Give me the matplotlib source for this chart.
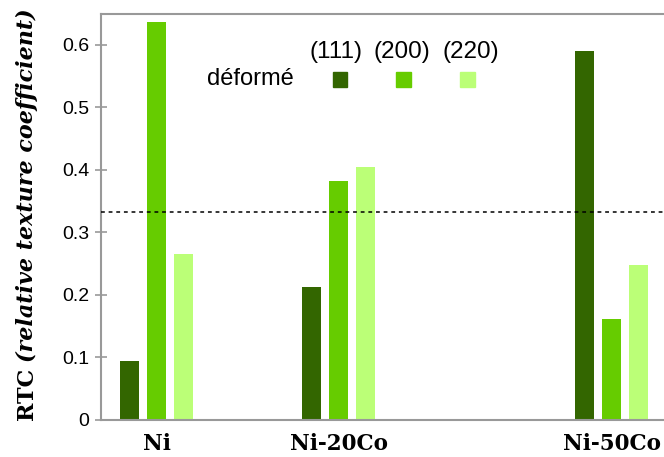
import numpy as np
import matplotlib
matplotlib.use('Agg')
import matplotlib.pyplot as plt

# data
samples = ['Ni', 'Ni-20Co', 'Ni-50Co']
co_content = [0, 20, 50]
planes = ['(111)', '(200)', '(220)']
rtc_111 = [0.095, 0.212, 0.590]
rtc_200 = [0.637, 0.382, 0.162]
rtc_220 = [0.266, 0.405, 0.248]
random_level = 1 / 3

colors = ['#336600', '#66CC00', '#BBFF77']

fig = plt.figure(figsize=(6.64, 4.57), dpi=100)
ax = fig.add_axes([101 / 664, 37 / 457, 600 / 664, 406.5 / 457])

x = np.array(co_content, dtype=float)
offset = 2.97
width = 2.1
for i, vals in enumerate([rtc_111, rtc_200, rtc_220]):
    ax.bar(x + (i - 1) * offset, vals, width=width, color=colors[i], zorder=2)

ax.axhline(random_level, color='black', linestyle=(0, (2.5, 2.5)), linewidth=1.1, zorder=3)

ax.set_xlim(-6.1, -6.1 + 600 / 9.1)
ax.set_ylim(0, 0.65)
ax.set_yticks([0, 0.1, 0.2, 0.3, 0.4, 0.5, 0.6])
ax.set_yticklabels(['0', '0.1', '0.2', '0.3', '0.4', '0.5', '0.6'],
                   fontfamily='Liberation Sans', fontsize=14)
ax.tick_params(axis='y', direction='inout', length=9, color='#999999', width=1.2, pad=4)
ax.set_xticks(x)
ax.set_xticklabels(samples, fontfamily='DejaVu Serif', fontweight='bold', fontsize=15.5)
ax.tick_params(axis='x', length=0, pad=9)
for s in ax.spines.values():
    s.set_color('#999999')
    s.set_linewidth(1.5)
ax.spines['right'].set_visible(False)

# legend built by hand
for lab, cx in zip(planes, [336, 402, 471]):
    fig.text(cx / 664, 1 - 52 / 457, lab, ha='center', va='center', fontsize=17.5,
             fontfamily='Liberation Sans')
fig.text(250 / 664, 1 - 79 / 457, 'déformé', ha='center', va='center', fontsize=17,
         fontfamily='Liberation Sans')
for cx, c in zip([340, 403.5, 467.5], colors):
    fig.patches.append(plt.Rectangle(((cx - 7.5) / 664, 1 - 87 / 457), 15 / 664, 15 / 457,
                                     transform=fig.transFigure, color=c, figure=fig))

# y label: upright bold "RTC" followed by bold italic part
fig.canvas.draw()
r = fig.canvas.get_renderer()
t1 = fig.text(27 / 664, 37 / 457, 'RTC', rotation=90, ha='center', va='bottom',
              fontsize=16, fontweight='bold', fontfamily='DejaVu Serif')
bb = t1.get_window_extent(renderer=r)
fig.text(27 / 664, (bb.y1 + 6) / 457, '(relative texture coefficient)', rotation=90, ha='center',
         va='bottom', fontsize=16, fontweight='bold', fontstyle='italic', fontfamily='DejaVu Serif')

fig.savefig('out.png', dpi=100)
